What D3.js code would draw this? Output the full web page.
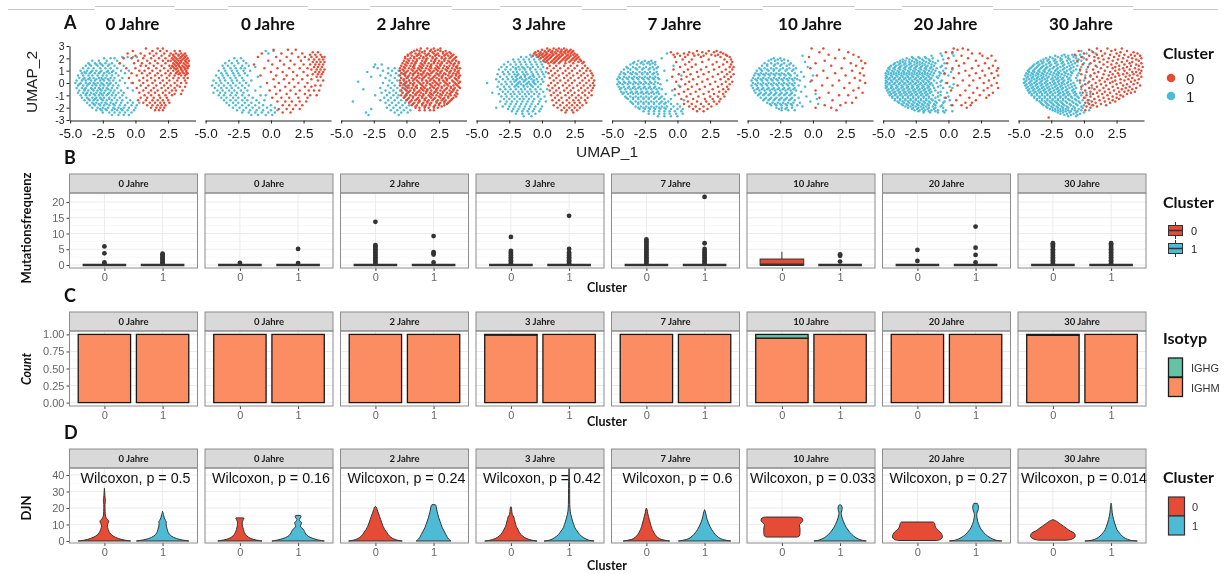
<!DOCTYPE html>
<html>
<head>
<meta charset="utf-8">
<script src="https://cdn.jsdelivr.net/npm/d3@7/dist/d3.min.js"></script>
<style>
  html,body{margin:0;padding:0;background:#fff;}
  svg{display:block;will-change:transform;-webkit-font-smoothing:antialiased;}
</style>
</head>
<body>
<svg id="fig" width="1226" height="574"></svg>
<script>
// ---------- categories & labels ----------
const ageLabels = ["0 Jahre","0 Jahre","2 Jahre","3 Jahre","7 Jahre","10 Jahre","20 Jahre","30 Jahre"];
const clusterNames = ["0","1"];
const clusterFill = ["#E64B35","#4DBBD5"];
const isotypeNames = ["IGHG","IGHM"];
const isotypeFill = ["#66C2A5","#FC8D62"];

const umapXTicks = [-5,-2.5,0,2.5];
const umapYTicks = [-3,-2,-1,0,1,2,3];
const mutTicks = [0,5,10,15,20];
const shareTicks = [0,0.25,0.5,0.75,1];
const djnTicks = [0,10,20,30,40];
const wilcoxonP = ["0.5","0.16","0.24","0.42","0.6","0.033","0.27","0.014"];

// ---------- UMAP embeddings (tenths of a unit): each row = [UMAP_2, UMAP_1 values...] ----------
const umapCluster0 = [
 [ // 0 Jahre
  [26,30,34],[24,27,31,35,38],[22,26,29,33,36,39],[20,28,31,34,37,40],[18,27,30,33,35,38,41],[16,29,32,34,37,40],[14,28,31,33,36,39,41],[12,30,32,35,38,40],[10,29,33,36,39],[8,31,34,37,40],[6,30,35,38],[4,33,37,40],[2,32,38],[0,35,39],[-3,34,38],[-6,31,36],[-9,30,35],
  [23,29,33,37],[21,30,35,38],[19,29,32,36,39],[17,31,35,39],[15,30,33,38],[13,29,34,37,40],[11,31,35,38],[9,32,36,39],[7,33,39],
  [28,8,17,21],[26,-2,13,19,24],[24,-6,4,11,16,22],[22,0,7,14,20],[20,-9,-3,6,12,18,23],[18,2,9,15,21,25],[16,-12,-1,5,11,17,23],[14,4,8,14,20,26],[12,-7,0,10,16,22,27],[10,3,7,13,19,25],[8,-3,5,11,17,23,27],[6,1,9,15,20,26],[4,-5,6,12,18,24,29],[2,3,9,15,21,26],[0,-2,6,13,19,24,30],[-2,4,10,16,22,27,32],[-4,1,8,14,20,25,30],[-6,6,12,17,23,28],[-8,3,10,15,21,26],[-10,7,12,18,23,28],[-12,4,9,14,19,24],[-14,2,8,13,17,21,25],[-16,6,11,15,19,22,26],[-18,9,13,17,20,23],[-20,12,16,19,22],[-22,15,18,21]
 ],
 [ // 0 Jahre
  [25,32,36],[23,30,34,38],[21,31,35,39,41],[19,29,33,37,40],[17,32,35,38,41],[15,30,34,37,40],[13,33,36,39],[11,31,35,38,41],[9,34,37,40],[7,32,36,39],[5,35,38],[2,36,40],[-2,34,38],[-6,33,37],[-10,30,35],
  [27,2,13,19],[24,-7,8,16,24],[21,-10,4,12,21,26],[18,-2,7,15,23],[15,-13,1,10,18,25],[12,-5,5,14,22,28],[9,0,9,17,25],[6,-8,4,12,20,28],[3,2,10,17,24,31],[0,-3,6,14,21,28],[-3,3,11,18,26,31],[-6,-1,7,15,22,29],[-9,4,12,19,26],[-12,1,8,14,21,28],[-15,5,11,16,22,27],[-18,9,14,19,24],[-21,6,12,17,22],[-24,9,15]
 ],
 [ // 2 Jahre
  [28,11,16,21,26],[27,8,19,24],[26,6,10,14,18,22,26,30],[25,4,12,20,28,33],[24,3,7,10,14,17,21,24,28,31,34],[23,1,9,16,23,30,36],[22,1,4,8,11,15,18,22,25,29,32,35],[21,-1,6,13,20,27,34,38],[20,-1,3,6,10,13,16,20,23,27,30,33,37],[19,1,8,15,22,29,36],[18,-2,2,5,8,12,15,19,22,25,29,32,35,38],[17,0,7,14,21,27,33,40],[16,-3,1,4,7,11,14,17,21,24,27,31,34,37,40],[15,-1,6,12,19,26,36],[14,-4,0,3,6,10,13,16,19,23,26,29,33,36,39],[13,-2,5,11,18,24,31,38],[12,-5,-1,2,6,9,12,15,19,22,25,28,32,35,39,41],[11,-3,4,10,17,23,30,37],[10,-5,-2,1,5,8,11,14,18,21,24,27,31,34,37,40],[9,0,7,13,20,26,33,39],[8,-4,-1,3,6,9,13,16,19,23,26,29,33,36,40],[7,-2,5,11,17,24,30,38],[6,-5,-1,2,5,9,12,15,18,22,25,28,32,35,38,41],[5,1,8,14,21,27,34,40],[4,-4,0,4,7,10,13,17,20,23,27,30,33,37,40],[3,-2,6,12,19,25,31,38],[2,-5,-2,2,5,8,12,15,18,21,25,28,31,35,39],[1,0,9,16,22,29,36,41],[0,-4,-1,3,6,10,13,16,20,23,26,30,33,37,40],[-1,-2,5,11,18,24,31,38],[-2,-5,-1,2,5,8,12,15,19,22,25,29,32,36,39],[-3,0,7,13,20,27,34,40],[-4,-3,1,4,8,11,14,18,21,24,27,31,34,37,41],[-5,-1,6,12,16,23,30,36],[-6,-4,0,3,6,10,13,16,19,23,26,29,33,36,39],[-7,2,9,15,22,28,35],[-8,-3,1,5,8,11,15,18,21,24,28,31,34,38],[-9,0,7,13,19,26,33,39],[-10,-4,0,3,7,10,13,17,20,23,27,30,34,37],[-11,-1,5,12,18,25,32,38],[-12,-2,2,5,9,12,15,19,22,26,29,32,36],[-13,1,8,14,21,28,35],[-14,0,4,7,10,14,17,20,24,27,30,34],[-15,3,10,16,23,29,33],[-16,2,6,9,13,16,19,23,26,29,32],[-17,5,12,18,25,31],[-18,4,8,12,15,18,22,25,29],[-19,7,14,21,27],[-20,7,10,14,17,21,24],[-22,10,14,18,21]
 ],
 [ // 3 Jahre
  [28,4,9,13,17],[27,0,6,11,15,19,22],[26,-3,2,5,8,12,15,18,21,24],[25,-5,-1,3,7,10,14,17,20,23],[24,-6,-2,1,4,8,11,15,18,22,25],[23,-4,0,3,6,9,13,16,20,24,27],[22,-7,-2,2,5,8,12,15,19,22,26],[21,-3,1,4,7,11,14,18,21,25,28],[20,-1,3,6,10,13,17,20,24,27],[19,2,5,9,12,16,19,23,26,29],[18,1,4,8,11,15,18,22,25,30],[17,3,7,10,14,21,28,32],[16,5,9,13,18,24,31],
  [14,6,11,17,22,27,33],[12,4,9,14,20,25,31,35],[10,7,12,18,23,29,34,37],[8,5,10,16,21,27,32,38],[6,8,13,19,24,30,35,39],[4,6,11,17,22,28,33,38],[2,9,14,20,25,31,36,40],[0,7,12,18,23,29,34,39],[-2,5,10,16,21,27,32,37,40],[-4,8,13,19,24,30,35,39],[-6,6,11,17,22,28,33,38],[-8,9,14,20,25,31,36],[-10,7,12,18,23,28,33,38],[-12,10,15,21,26,30,35],[-14,8,13,19,24,28,33],[-16,11,16,21,25,29,34],[-18,9,14,19,23,27,31],[-20,12,17,21,25,29],[-22,15,19,23,27],[-24,18,24]
 ],
 [ // 7 Jahre
  [26,15,24,30],[25,-5,9,19,28,33],[24,0,5,12,22,35],[23,-3,8,16,26,31,37],[22,2,13,20,29,38],[21,-2,6,18,33,40],[19,4,11,24,36,41],[17,-1,9,19,30,38,42],[15,6,14,27,35,41],[13,2,11,22,32,40,43],[11,-3,8,18,28,37,42],[9,5,15,24,34,40],[7,1,10,20,31,38,43],[5,-4,7,16,27,36,41],[3,3,12,23,33,39],[1,-1,9,19,29,37,42],[-1,6,15,25,34,40],[-3,2,11,21,31,38],[-5,-2,8,17,27,35,39],[-7,5,14,24,32,37],[-9,1,10,20,28,35],[-11,7,16,25,31,36],[-13,3,12,21,27,33],[-15,8,15,22,28,32],[-17,5,11,18,24,30],[-19,9,14,20,26],[-21,12,17,23],[-23,15,20]
 ],
 [ // 10 Jahre
  [28,-1,8],[27,20],[25,5,27],[23,12,31],[21,-3,35],[20,17,24],[18,9,37],[16,2,29,40],[14,14,33],[12,-2,22,38],[10,8,30],[8,17,36],[6,3,25,39],[4,11,32],[2,-1,20,36],[0,28,40],[-2,7,15],[-4,24,35],[-6,2,31],[-8,12,38],[-10,20,27],[-12,5,33],[-14,15],[-16,25,30],[-18,9,21],[-20,2,14],[-22,18]
 ],
 [ // 20 Jahre
  [28,4,11],[27,7,15],[25,-2,3],[24,18,24],[22,10,26,33],[20,0,15,30],[18,6,21,36],[16,-1,12,28],[14,8,23,34],[12,3,18,31,38],[10,13,26,37],[8,-3,8,21,33],[6,16,28,38],[4,4,24,35],[2,11,19,31],[0,-1,27,37],[-2,7,16,33],[-4,22,30,38],[-6,2,13,27],[-8,19,34],[-10,9,24,31],[-12,-2,16,29],[-14,6,21],[-16,13,18],[-18,3,10,17],[-20,14]
 ],
 [ // 30 Jahre
  [28,10,18,29],[27,4,24],[26,-4,13,21,33],[25,7,28,38],[24,0,16,25,41],[23,-7,10,20,31,36],[22,4,14,27,39,43],[21,-2,8,23,34],[20,11,19,30,37,44],[19,2,15,26,40],[18,-5,8,22,33,42],[17,12,18,29,37],[16,5,25,35,44],[15,-1,15,21,31,40],[14,9,27,36,42],[13,3,18,24,33,45],[12,13,22,30,39],[11,-3,7,27,35,42],[10,16,24,31,44],[9,2,11,20,37,40],[8,8,26,33,43],[7,-2,15,22,30,38],[6,5,19,27,35,41],[5,10,24,32,44],[4,1,14,21,37],[3,7,18,28,34,42],[2,-3,12,24,31,39],[1,4,16,22,36],[0,9,20,28,41],[-1,1,13,25,33,38],[-2,6,17,30,43],[-3,-2,10,22,35],[-4,4,15,26,32,40],[-5,8,19,29,37],[-6,1,12,23,34],[-7,5,16,27,31,39],[-8,-1,10,20,36],[-9,7,14,25,33],[-10,2,18,28],[-11,5,11,22,30],[-12,0,15,25],[-13,8,19,27],[-14,3,12,22],[-15,6,16,24],[-16,1,9,20],[-17,4,13],[-18,7,17],[-19,2,10],[-20,5],[-22,1],[-28,-27]
 ]
];

const umapCluster1 = [
 [ // 0 Jahre
  [20,-24,-19,-16],[21,-10,-6,-2,1],[18,-33,-28,-22,-14],[16,-36,-31,-27,-23,-18,-12],[14,-38,-34,-29,-25,-21,-16,-9],[12,-40,-36,-32,-27,-23,-19,-14],[10,-42,-37,-33,-30,-26,-21,-17,-11,-5],[8,-41,-38,-35,-31,-28,-24,-20,-15,-8],[6,-44,-40,-36,-33,-29,-25,-22,-18,-13],[4,-43,-39,-35,-32,-28,-26,-23,-19,-16,-10],[2,-45,-41,-38,-34,-31,-27,-24,-20,-17,-12],[0,-46,-42,-38,-35,-32,-29,-26,-22,-19,-15,-8,-3],[-2,-44,-40,-37,-33,-30,-27,-24,-21,-17,-13],[-4,-45,-41,-38,-34,-31,-28,-25,-22,-18,-14,-6],[-6,-43,-39,-36,-32,-29,-26,-23,-19,-16,-11,-2],[-8,-44,-40,-37,-34,-30,-27,-24,-20,-17,-13,-9],[-10,-42,-38,-35,-31,-28,-25,-22,-18,-15,-10],[-12,-41,-37,-33,-30,-27,-24,-20,-16,-12,-7],[-14,-39,-35,-32,-29,-25,-22,-18,-14,-10,-4],[-16,-37,-33,-30,-26,-23,-19,-15,-11,-6,-2,3],[-18,-35,-31,-27,-24,-20,-16,-12,-8,-3,1],[-20,-33,-29,-25,-21,-17,-13,-9,-5,0],[-22,-30,-26,-22,-18,-14,-10,-6,-1],[-24,-25,-20,-16,-12,-8,-3],[-26,-18,-13,-9,-5],
  [15,-35,-30,-26,-20],[9,-39,-34,-27,-22,-18],[3,-40,-36,-30,-25,-21],[-1,-43,-36,-31,-25,-20],[-5,-39,-33,-27,-21],[-9,-38,-32,-26,-21],[-13,-36,-31,-26,-20],[-17,-32,-28,-22,-17],[-21,-27,-23,-16,-11]
 ],
 [ // 0 Jahre
  [20,-28,-23],[18,-32,-26,-21],[16,-35,-30,-25,-19],[14,-37,-33,-28,-22,-17],[12,-36,-31,-27,-23,-20],[10,-40,-35,-30,-26,-21,-16],[8,-38,-34,-29,-25,-20],[6,-42,-37,-33,-28,-24,-18],[4,-40,-36,-31,-27,-22],[2,-44,-39,-35,-30,-26,-21,-15],[0,-42,-38,-33,-29,-24,-19],[-2,-45,-40,-36,-31,-27,-22,-17],[-4,-43,-38,-34,-30,-25,-20],[-6,-41,-37,-32,-28,-23,-18,-12],[-8,-44,-39,-35,-30,-26,-21],[-10,-40,-36,-31,-27,-22,-17,-8],[-12,-38,-34,-29,-25,-20,-14],[-14,-36,-31,-27,-22,-18,-11,-5],[-16,-34,-29,-25,-20,-15,-9],[-18,-32,-27,-22,-17,-12,-6,0],[-20,-29,-24,-19,-14,-9,-3,3],[-22,-26,-21,-16,-11,-6,0,5],[-24,-22,-17,-12,-7,-2,3],[-26,-15,-10,-4,1],
  [26,-4,2],[24,-2],[13,-12],[-3,-8],[5,-10],[-10,-4]
 ],
 [ // 2 Jahre
  [15,-24,-19],[12,-22,-14,-9],[10,-18,-11,-6],[8,-14,-8,-3],[6,-20,-12,-6,-1],[4,-16,-9,-4,1],[2,-13,-7,-2,2],[0,-18,-11,-5,0,3],[-2,-14,-9,-3,1],[-4,-20,-12,-7,-2,2],[-6,-16,-10,-5,0],[-8,-19,-13,-8,-3,1],[-10,-15,-10,-6,-1,3],[-12,-17,-12,-7,-2],[-14,-20,-14,-9,-4,0],[-16,-16,-11,-6,-1],[-18,-13,-8,-3,2],[-20,-15,-10,-5,0],[-22,-12,-7,-2,3],[-24,-9,-4,1],[-26,-29,-6],
  [1,-37],[-15,-41],[-24,-31],[-21,-27],[9,-30],[13,-25],[-5,-33],[5,-27],[-10,-24]
 ],
 [ // 3 Jahre
  [23,-9,-5,-1],[21,-16,-12,-8,-4,0],[19,-22,-18,-14,-10,-6,-2],[17,-26,-21,-17,-13,-9,-5,-1,2],[15,-29,-24,-20,-16,-12,-8,-4,0],[13,-31,-27,-22,-18,-15,-11,-7,-3,1],[11,-33,-28,-24,-20,-17,-13,-9,-5,-1],[9,-30,-26,-22,-19,-15,-12,-8,-4,0,3],[7,-34,-29,-25,-21,-18,-14,-11,-7,-3,1],[5,-32,-27,-23,-20,-16,-13,-9,-6,-2,2],[3,-35,-30,-26,-22,-19,-15,-12,-8,-4,0],[1,-33,-28,-24,-21,-17,-14,-10,-7,-3,1],[-1,-31,-27,-23,-19,-16,-12,-9,-5,-1],[-3,-34,-29,-25,-21,-18,-14,-11,-7,-3],[-5,-32,-28,-24,-20,-16,-13,-9,-5,-1,4],[-7,-30,-26,-22,-18,-15,-11,-8,-4,1],[-9,-33,-28,-24,-21,-17,-13,-10,-6,-2],[-11,-31,-27,-23,-19,-15,-12,-8,-3,2],[-13,-29,-25,-21,-17,-14,-10,-6,-1],[-15,-32,-27,-23,-19,-15,-11,-7,-2,3],[-17,-28,-24,-20,-16,-12,-8,-3],[-19,-30,-25,-21,-17,-13,-9,-5,0],[-21,-26,-22,-18,-14,-10,-6,-1],[-23,-23,-19,-15,-11,-7,-2],[-25,-20,-15,-10,-5],[-27,-14,-8],
  [12,-20,-14,-9],[6,-19,-13,-7],[4,-17,-10],[0,-18,-11,-6],[2,-20,-13,-6],[-2,-20,-14,-8],[0,-42],[-8,-38],[-20,-35]
 ],
 [ // 7 Jahre
  [18,-30,-25,-20],[17,-33,-27,-22,-17],[15,-36,-31,-26,-21,-17],[13,-39,-34,-29,-24,-19,-15],[11,-41,-36,-31,-27,-22,-18],[9,-43,-38,-34,-29,-25,-21,-16],[7,-44,-40,-35,-31,-27,-23,-19,-15],[5,-45,-41,-37,-33,-29,-25,-21,-17],[3,-46,-42,-38,-34,-30,-26,-22,-18,-14],[1,-45,-41,-37,-33,-29,-25,-21,-17],[-1,-46,-42,-38,-34,-30,-26,-22,-18,-13],[-3,-45,-41,-37,-33,-29,-25,-21,-17],[-5,-44,-40,-36,-32,-28,-24,-20,-16,-12],[-7,-43,-39,-35,-31,-27,-23,-19,-15],[-9,-42,-38,-34,-30,-26,-22,-18,-14,-9],[-11,-40,-36,-32,-28,-24,-20,-16,-12],[-13,-38,-34,-30,-26,-22,-18,-14,-10,-5],[-15,-36,-32,-28,-24,-20,-16,-12,-7],[-17,-34,-30,-26,-22,-18,-14,-10,-5,0],[-19,-32,-28,-24,-20,-16,-12,-8,-3,2],[-21,-29,-25,-21,-17,-13,-9,-5,0,4],[-23,-26,-22,-18,-14,-10,-6,-2,3],[-25,-22,-18,-14,-10,-6,-1,4],[-27,-15,-10,-5,0],
  [16,-34,-28,-23,-19],[12,-38,-32,-26,-21,-16],[8,-41,-36,-32,-27,-23,-18],[4,-44,-39,-35,-31,-27,-23,-19,-15],[0,-44,-40,-36,-32,-28,-24,-20,-15],[-4,-43,-38,-34,-30,-26,-22,-18,-14],[-8,-41,-36,-32,-28,-24,-20,-16],[-12,-39,-34,-30,-26,-22,-17,-13],[-16,-35,-30,-26,-22,-18,-13,-9],[-20,-30,-26,-22,-18,-14,-10],
  [24,-8],[10,-10],[2,-8],[-6,-4],[14,-3],[-10,-2],[-2,1],[6,3],[20,-12],[-14,5]
 ],
 [ // 10 Jahre
  [20,-30,-25],[18,-34,-29,-24,-19],[16,-37,-32,-27,-22,-17],[14,-39,-35,-30,-25,-20,-15],[12,-41,-37,-32,-28,-23,-18,-13],[10,-43,-39,-34,-30,-26,-21,-16],[8,-44,-40,-36,-32,-28,-24,-19,-14],[6,-45,-41,-37,-33,-29,-25,-21,-17,-12],[4,-46,-42,-38,-34,-30,-26,-22,-18,-14],[2,-47,-43,-39,-35,-31,-27,-23,-19,-15,-10],[0,-46,-42,-38,-34,-30,-26,-22,-18,-14],[-2,-47,-43,-39,-35,-31,-27,-23,-19,-15,-11],[-4,-46,-42,-38,-34,-30,-26,-22,-18,-14],[-6,-45,-41,-37,-33,-29,-25,-21,-17,-13],[-8,-44,-40,-36,-32,-28,-24,-20,-16],[-10,-42,-38,-34,-30,-26,-22,-18,-14],[-12,-40,-36,-32,-28,-24,-20,-16,-11],[-14,-38,-34,-30,-26,-22,-18,-14],[-16,-35,-31,-27,-23,-19,-15,-10],[-18,-32,-28,-24,-20,-16,-12],[-20,-28,-24,-20,-16],[-22,-24,-19,-14],
  [19,-32,-27,-22],[15,-35,-29,-24,-18],[11,-40,-35,-30,-25,-20,-15],[7,-42,-38,-34,-30,-26,-22,-18],[3,-44,-40,-36,-32,-28,-24,-20,-16,-12],[-1,-44,-40,-36,-32,-28,-24,-20,-16],[-5,-43,-39,-35,-31,-27,-23,-19,-15],[-9,-41,-37,-33,-29,-25,-21,-17],[-13,-37,-33,-29,-25,-21,-17],[-17,-33,-29,-25,-21,-17],[-21,-26,-21],
  [22,-8],[9,-9],[5,-7],[-3,-6],[-7,-9],[-11,-5],[-15,-2],[-19,-8],[13,-4],[1,-2],[-9,2],[17,-6],[-13,3],[-17,4],[6,0]
 ],
 [ // 20 Jahre
  [21,-28,-23,-18],[20,-32,-27,-22,-17,-12],[19,-35,-30,-25,-20,-15],[18,-37,-33,-28,-24,-19,-14,-8],[17,-39,-35,-30,-26,-22,-17,-12],[16,-41,-37,-33,-29,-24,-20,-15,-10,-3],[15,-42,-38,-34,-30,-26,-22,-18,-13],[14,-44,-40,-36,-32,-28,-24,-20,-16,-11,-5],[13,-45,-41,-37,-33,-29,-25,-21,-17,-13],[12,-46,-42,-38,-34,-30,-26,-22,-18,-14,-9,-2],[11,-45,-41,-37,-33,-29,-25,-21,-17,-12],[10,-47,-43,-39,-35,-31,-27,-23,-19,-15,-10,-4],[9,-46,-42,-38,-34,-30,-26,-22,-18,-13],[8,-48,-44,-40,-36,-32,-28,-24,-20,-16,-11,-6],[7,-46,-42,-38,-34,-30,-26,-22,-18,-14],[6,-48,-44,-40,-36,-32,-28,-24,-20,-16,-12,-7,0],[5,-47,-43,-39,-35,-31,-27,-23,-19,-15],[4,-48,-45,-41,-37,-33,-29,-25,-21,-17,-13,-8],[3,-46,-42,-38,-34,-30,-26,-22,-18,-14],[2,-48,-44,-40,-36,-32,-28,-24,-20,-16,-11,-5],[1,-47,-43,-39,-35,-31,-27,-23,-19,-15],[0,-48,-45,-41,-37,-33,-29,-25,-21,-17,-13,-9,-2],[-1,-46,-42,-38,-34,-30,-26,-22,-18,-14],[-2,-48,-44,-40,-36,-32,-28,-24,-20,-16,-12,-6],[-3,-47,-43,-39,-35,-31,-27,-23,-19,-15],[-4,-48,-44,-40,-36,-32,-28,-24,-20,-16,-11,-4,3],[-5,-46,-42,-38,-34,-30,-26,-22,-18,-14],[-6,-47,-43,-39,-35,-31,-27,-23,-19,-15,-10],[-7,-45,-41,-37,-33,-29,-25,-21,-17,-13],[-8,-46,-42,-38,-34,-30,-26,-22,-18,-14,-8,-1],[-9,-44,-40,-36,-32,-28,-24,-20,-16],[-10,-45,-41,-37,-33,-29,-25,-21,-17,-12,-6],[-11,-43,-39,-35,-31,-27,-23,-19,-15],[-12,-43,-39,-35,-31,-27,-23,-19,-15,-10,-3],[-13,-41,-37,-33,-29,-25,-21,-17,-13],[-14,-41,-37,-33,-29,-25,-21,-17,-12,-7,1],[-15,-39,-35,-31,-27,-23,-19,-15],[-16,-38,-34,-30,-26,-22,-18,-14,-9,-4],[-17,-36,-32,-28,-24,-20,-16,-11],[-18,-35,-31,-27,-23,-19,-15,-10,-5,2],[-19,-33,-29,-25,-21,-17,-12],[-20,-31,-27,-23,-19,-15,-10,-4],[-21,-28,-24,-20,-16,-11],[-22,-26,-22,-18,-13,-8,-2],[-23,-23,-19,-15,-10],[-24,-19,-14,-8,-3],
  [24,-6,3],[22,-13,-5,4],[19,-4],[13,-6],[9,-7,2],[5,-9],[1,-6],[-3,-8,1],[-7,-6],[-11,-8,0],[-15,-10,-3],[-19,-6],[-23,-4,3],[7,-3],[11,3],[-1,4]
 ],
 [ // 30 Jahre
  [23,-15,-9,-3],[22,-22,-17,-12,-6],[21,-26,-20,-14,-8,-1],[20,-29,-24,-18,-12,-6],[19,-31,-27,-22,-17,-11,-4],[18,-33,-28,-23,-18,-13,-8],[17,-35,-31,-26,-21,-16,-10,-5],[16,-36,-32,-27,-22,-17,-12,-7,0],[15,-38,-34,-29,-25,-20,-15,-9],[14,-39,-35,-31,-26,-21,-16,-11,-5],[13,-40,-36,-32,-28,-23,-18,-13,-8,-2],[12,-41,-37,-33,-29,-24,-20,-15,-10],[11,-42,-38,-34,-30,-26,-21,-16,-11,-6],[10,-43,-39,-35,-31,-27,-22,-18,-13,-8,-3],[9,-42,-38,-34,-30,-25,-20,-15,-10],[8,-44,-40,-36,-32,-28,-23,-19,-14,-9,-4],[7,-43,-39,-35,-31,-26,-21,-17,-12],[6,-45,-41,-37,-33,-29,-24,-20,-15,-10,-5,1],[5,-43,-39,-35,-31,-27,-22,-18,-13],[4,-44,-40,-36,-32,-28,-24,-20,-16,-11,-6],[3,-46,-42,-38,-34,-30,-25,-21,-17,-12],[2,-44,-40,-36,-32,-28,-23,-19,-15,-10,-5,0],[1,-45,-41,-37,-33,-29,-24,-20,-16,-12],[0,-46,-42,-38,-34,-30,-26,-22,-17,-13,-8,-3],[-1,-44,-40,-36,-32,-28,-23,-19,-15,-10],[-2,-45,-41,-37,-33,-29,-25,-21,-17,-12,-7,-1],[-3,-43,-39,-35,-31,-27,-22,-18,-14,-9],[-4,-44,-40,-36,-32,-28,-24,-20,-16,-11,-6],[-5,-42,-38,-34,-30,-26,-21,-17,-13,-8,-2],[-6,-43,-39,-35,-31,-27,-23,-19,-14,-9],[-7,-41,-37,-33,-29,-25,-20,-16,-12,-7],[-8,-42,-38,-34,-30,-26,-22,-18,-13,-8,-3,2],[-9,-40,-36,-32,-28,-24,-19,-15,-11,-6],[-10,-40,-36,-32,-28,-24,-20,-16,-12,-7,-2],[-11,-38,-34,-30,-26,-22,-18,-14,-10,-5],[-12,-38,-34,-30,-26,-22,-18,-14,-9,-4,1],[-13,-36,-32,-28,-24,-20,-16,-12,-7],[-14,-36,-32,-28,-24,-20,-16,-11,-6,-1,4],[-15,-34,-30,-26,-22,-18,-14,-9,-4],[-16,-33,-29,-25,-21,-17,-13,-8,-3,3],[-17,-32,-28,-24,-20,-16,-11,-6],[-18,-31,-27,-23,-19,-15,-10,-5,0],[-19,-29,-25,-21,-17,-13,-8,-2],[-20,-28,-24,-20,-16,-12,-7,-1],[-21,-26,-22,-18,-14,-9,-4],[-22,-24,-20,-16,-12,-7,-2],[-23,-22,-18,-14,-10,-5],[-24,-20,-16,-11,-6,0],[-25,-18,-13,-8,-3],[-26,-15,-10,-5],[-27,-12,-6],
  [26,-2,6],[24,2,9],[20,0],[15,4],[11,2],[5,5],[0,3],[-4,6],[-9,5],[-13,8],[-18,6],[-22,4],[18,-2,8],[13,10],[22,43]
 ]
];

// ---------- B: mutation frequency box plots, [cluster 0, cluster 1] per age ----------
const mutQ1 = [[0,0],[0,0],[0,0],[0,0],[0,0],[0,0],[0,0],[0,0]];
const mutMedian = [[0,0],[0,0],[0,0],[0,0],[0,0],[0.1,0],[0,0],[0,0]];
const mutQ3 = [[0,0],[0,0],[0,0],[0,0],[0,0],[1.9,0],[0,0],[0,0]];
const mutWhiskerHigh = [[0,0],[0,0],[0,0],[0,0],[0,0],[4.2,0],[0,0],[0,0]];
const mutOutliers = [
 [[0.4,0.8,3.7,5.9],[0.5,0.9,1.3,1.7,2.1,2.5,2.9,3.3,3.6]],
 [[0.7],[0.6,5.1]],
 [[0.5,1,1.5,2,2.5,3,3.5,4,4.5,5,5.5,6,6.3,13.7],[0.8,3.3,3.8,4.1,9.2]],
 [[0.5,1,1.5,2,2.5,3,3.5,4,4.5,8.9],[0.5,1,1.5,2,2.5,3,3.5,4,5.1,15.6]],
 [[0.5,1,1.5,2,2.5,3,3.5,4,4.5,5,5.5,6,6.6,7.2,7.6,8.1],[0.5,1,1.5,2,2.5,3,3.5,4,4.5,5.1,6.9,21.6]],
 [[],[1.1,2.9,3.4]],
 [[1.3,4.8],[0.8,3.2,5.5,12.2]],
 [[0.5,1,1.5,2,2.5,3,3.5,4,4.5,5,5.7,6.1,6.5,6.9],[0.5,1,1.5,2,2.5,3,3.5,4,4.5,5,5.5,6,6.5,6.9]]
];

// ---------- C: isotype share per cluster ----------
const ighgShare = [[0,0],[0,0],[0,0],[0.008,0],[0,0],[0.055,0],[0,0],[0.012,0]];
const ighmShare = [[1,1],[1,1],[1,1],[0.992,1],[1,1],[0.945,1],[1,1],[0.988,1]];

// ---------- D: DJN violin outlines, [value, half width in category units] ----------
const djnViolins = [
 [[[0,0.45],[0.6,0.34],[1.5,0.24],[3,0.15],[5,0.09],[7,0.065],[9,0.05],[10.5,0.06],[11.5,0.075],[12.5,0.07],[13.5,0.04],[15,0.02],[18,0.012],[22,0.01],[24,0.016],[25,0.018],[26,0.012],[29,0.006],[32,0]],
  [[0,0.45],[0.7,0.33],[1.5,0.24],[3,0.15],[5,0.1],[7,0.08],[9,0.065],[10.5,0.06],[11.5,0.065],[12.5,0.05],[14,0.03],[16,0.015],[18,0]]],
 [[[0,0.38],[0.7,0.27],[1.5,0.19],[3,0.12],[5,0.08],[7,0.06],[9,0.045],[11,0.04],[12,0.045],[13,0.06],[13.8,0.07],[14,0.065]],
  [[0,0.45],[0.8,0.33],[2,0.22],[3.5,0.15],[5,0.12],[6.5,0.1],[8,0.06],[9,0.04],[10,0.05],[11,0.06],[12,0.035],[13,0.02],[14,0.04],[15,0.05],[15.5,0.04]]],
 [[[0,0.46],[0.5,0.38],[1.5,0.3],[3,0.24],[5,0.2],[7,0.16],[9,0.13],[11,0.11],[13,0.09],[15,0.07],[17,0.05],[19,0.03],[20.5,0.015],[21,0]],
  [[0,0.3],[0.5,0.28],[2,0.24],[4,0.21],[6,0.18],[8,0.15],[10,0.13],[12,0.11],[14,0.09],[16,0.075],[18,0.06],[20,0.05],[21.5,0.04],[22,0.03]]],
 [[[0,0.45],[0.5,0.36],[1.5,0.27],[3,0.2],[5,0.15],[7,0.12],[9,0.09],[11,0.075],[13,0.06],[14.5,0.05],[16,0.025],[18,0.015],[20,0.01],[20.8,0]],
  [[0,0.43],[0.6,0.33],[2,0.25],[4,0.18],[6,0.14],[8,0.1],[10,0.08],[12,0.06],[14,0.045],[16,0.03],[18,0.02],[22,0.012],[28,0.01],[36,0.008],[44,0]]],
 [[[0,0.4],[0.6,0.3],[1.5,0.22],[3,0.17],[5,0.13],[7,0.1],[9,0.08],[11,0.065],[13,0.05],[15,0.035],[17,0.02],[19,0.012],[20,0]],
  [[0,0.45],[0.6,0.35],[1.5,0.27],[3,0.21],[5,0.16],[7,0.12],[9,0.09],[11,0.065],[13,0.045],[15,0.03],[17,0.018],[19,0]]],
 [[[2.4,0.26],[3,0.3],[5,0.31],[8,0.31],[10,0.3],[11,0.33],[12.5,0.36],[14,0.34],[14.5,0.27]],
  [[0,0.45],[0.6,0.36],[2,0.27],[4,0.2],[6,0.15],[8,0.11],[10,0.08],[12,0.055],[14,0.035],[16,0.022],[17.5,0.02],[18.5,0.03],[20,0.035],[21.5,0.025],[22,0]]],
 [[[0.3,0.33],[1,0.4],[2.5,0.43],[4,0.42],[5.5,0.39],[7,0.34],[8.5,0.31],[10,0.3],[11,0.29],[11.5,0.27]],
  [[0,0.45],[0.6,0.34],[2,0.25],[4,0.17],[6,0.12],[8,0.08],[10,0.055],[12,0.035],[14,0.025],[16,0.02],[17.5,0.03],[19,0.045],[20.5,0.05],[22,0.04],[22.8,0.03]]],
 [[[0.5,0.24],[1.2,0.33],[2.5,0.38],[4,0.38],[5,0.36],[6,0.3],[7.5,0.24],[9,0.18],[10.5,0.12],[12,0.06],[13,0]],
  [[0,0.45],[0.5,0.33],[1.5,0.25],[3,0.19],[5,0.14],[7,0.1],[9,0.08],[11,0.06],[13,0.045],[15,0.03],[17,0.02],[19,0.014],[21,0.01],[23,0]]]
];

// ---------- drawing ----------
const svg = d3.select("#fig");
const SANS = '"Liberation Sans", Arial, Helvetica, sans-serif';
const HUM = 'Lato, "Open Sans", sans-serif';
const facetLeft = i => 69.5 + i * 135.5;
const PANEL_W = 128;
const UMAP_W = 126;
const LINE = "#8c8c8c";

function expandRows(rows) {
  const pts = [];
  rows.forEach(r => { for (let k = 1; k < r.length; k++) pts.push([r[k] / 10, r[0] / 10]); });
  return pts;
}
function text(g, x, y, str, opts = {}) {
  return g.append("text").attr("x", x).attr("y", y).text(str)
    .attr("font-family", opts.font || SANS).attr("font-size", opts.size || 12)
    .attr("font-weight", opts.weight || "normal").attr("font-style", opts.style || "normal")
    .attr("fill", opts.fill || "#1a1a1a").attr("text-anchor", opts.anchor || "start")
    .attr("dominant-baseline", opts.baseline || "auto");
}
function styleAxis(g, lineColor, textColor, size) {
  g.attr("font-family", SANS).attr("font-size", size);
  g.select(".domain").attr("stroke", lineColor);
  g.selectAll(".tick line").attr("stroke", lineColor);
  g.selectAll(".tick text").attr("fill", textColor);
}

// window edge rules along the top
const topRule = svg.append("g").attr("stroke", "#c9c9c9").attr("stroke-width", 1).attr("fill", "none");
[[8,95,9],[95,175,6],[175,228,9],[228,308,6],[308,370,9],[370,452,6],[452,500,9],[500,582,6],[582,627,9],[627,720,6],[720,763,9],[763,855,6],[855,902,9],[902,993,6],[993,1040,9],[1040,1133,6],[1133,1218,9]]
  .forEach(s => topRule.append("line").attr("x1", s[0]).attr("x2", s[1]).attr("y1", s[2] + 0.5).attr("y2", s[2] + 0.5));

// section letters
[["A",29],["B",164],["C",302],["D",439]].forEach(([l, y]) =>
  text(svg, 64, y, l, {font: HUM, size: 18, weight: "bold", fill: "#111"}));

// ===== A: UMAP =====
const umapY = d3.scaleLinear().domain([-3, 3]).range([120, 46]);
ageLabels.forEach((age, i) => {
  const x0 = facetLeft(i);
  const xs = d3.scaleLinear().domain([-5.05, 4.6]).range([x0, x0 + UMAP_W]);
  const g = svg.append("g");
  text(g, x0 + UMAP_W / 2, 30, age, {font: HUM, size: 17, weight: "bold", anchor: "middle", fill: "#111"});
  [1, 0].forEach(c => {
    const pts = expandRows(c === 0 ? umapCluster0[i] : umapCluster1[i]);
    g.append("g").selectAll("circle").data(pts).join("circle")
      .attr("cx", d => xs(d[0])).attr("cy", d => umapY(d[1]))
      .attr("r", 1.25).attr("fill", clusterFill[c]);
  });
  const ax = g.append("g").attr("transform", "translate(0,120.5)")
    .call(d3.axisBottom(xs).tickValues(umapXTicks).tickFormat(d => d.toFixed(1)).tickSize(3).tickSizeOuter(0).tickPadding(4.5));
  styleAxis(ax, "#222", "#1a1a1a", 13.5);
  if (i === 0) {
    const ay = g.append("g").attr("transform", `translate(${x0},0)`)
      .call(d3.axisLeft(umapY).tickValues(umapYTicks).tickFormat(d => String(d)).tickSize(3).tickSizeOuter(0).tickPadding(2));
    styleAxis(ay, "#222", "#1a1a1a", 10.5);
    ay.selectAll(".tick text").attr("dy", "0.36em");
  }
});
text(svg, 31, 82, "UMAP_2", {size: 15.5, anchor: "middle", baseline: "central", fill: "#222"})
  .attr("transform", "rotate(-90,31,82)");
text(svg, 607, 157, "UMAP_1", {size: 15.5, anchor: "middle", fill: "#222"});
// legend A
text(svg, 1163, 59, "Cluster", {font: HUM, size: 16, weight: "bold", fill: "#111"});
clusterNames.forEach((n, c) => {
  svg.append("circle").attr("cx", 1171).attr("cy", 78 + c * 18).attr("r", 4.3).attr("fill", clusterFill[c]);
  text(svg, 1186, 78 + c * 18, n, {size: 15, baseline: "central", fill: "#222"});
});

// ===== shared facet frame for B, C, D =====
function catScale(x0) { return d3.scaleLinear().domain([0.4, 2.6]).range([x0, x0 + PANEL_W]); }
function facetFrame(i, row, ys, major, minor) {
  const x0 = facetLeft(i);
  const g = svg.append("g");
  g.append("rect").attr("x", x0).attr("y", row.panelTop).attr("width", PANEL_W)
    .attr("height", row.panelBottom - row.panelTop).attr("fill", "#fff");
  const grid = g.append("g");
  minor.forEach(v => grid.append("line").attr("x1", x0).attr("x2", x0 + PANEL_W)
    .attr("y1", ys(v)).attr("y2", ys(v)).attr("stroke", "#f2f2f2").attr("stroke-width", 0.6));
  major.forEach(v => grid.append("line").attr("x1", x0).attr("x2", x0 + PANEL_W)
    .attr("y1", ys(v)).attr("y2", ys(v)).attr("stroke", "#ebebeb").attr("stroke-width", 1));
  const cx = catScale(x0);
  [1, 2].forEach(v => grid.append("line").attr("x1", cx(v)).attr("x2", cx(v))
    .attr("y1", row.panelTop).attr("y2", row.panelBottom).attr("stroke", "#ebebeb").attr("stroke-width", 1));
  // strip
  g.append("rect").attr("x", x0).attr("y", row.stripTop).attr("width", PANEL_W)
    .attr("height", row.panelTop - row.stripTop).attr("fill", "#d9d9d9").attr("stroke", LINE).attr("stroke-width", 1);
  text(g, x0 + PANEL_W / 2, row.stripTop + 13, ageLabels[i], {font: HUM, size: 9.5, weight: "bold", anchor: "middle", fill: "#1a1a1a"});
  // x axis
  const ax = g.append("g").attr("transform", `translate(0,${row.panelBottom})`)
    .call(d3.axisBottom(cx).tickValues([1, 2]).tickFormat(d => clusterNames[d - 1]).tickSize(3).tickSizeOuter(0).tickPadding(2));
  styleAxis(ax, "#444", "#666", 11);
  ax.select(".domain").remove();
  if (i === 0) {
    const ay = g.append("g").attr("transform", `translate(${x0},0)`)
      .call(d3.axisLeft(ys).tickValues(major).tickSize(3).tickSizeOuter(0).tickPadding(2)
        .tickFormat(row.fmt));
    styleAxis(ay, "#444", "#666", 11);
    ay.select(".domain").remove();
  }
  const marks = g.append("g");
  const border = () => g.append("rect").attr("x", x0).attr("y", row.panelTop).attr("width", PANEL_W)
    .attr("height", row.panelBottom - row.panelTop).attr("fill", "none").attr("stroke", LINE).attr("stroke-width", 1);
  return {g, marks, cx, border, x0};
}

// ===== B: mutation frequency =====
const rowB = {stripTop: 174, panelTop: 193, panelBottom: 268, fmt: d => String(d)};
const yB = d3.scaleLinear().domain([-0.95, 22.86]).range([268, 193]);
ageLabels.forEach((age, i) => {
  const f = facetFrame(i, rowB, yB, mutTicks, [2.5, 7.5, 12.5, 17.5, 22.5].filter(v => v < 22.86));
  const unit = PANEL_W / 2.2;
  [0, 1].forEach(c => {
    const cx = f.cx(c + 1), hw = 0.375 * unit;
    const q1 = mutQ1[i][c], q3 = mutQ3[i][c], med = mutMedian[i][c], hi = mutWhiskerHigh[i][c];
    if (hi > q3) f.marks.append("line").attr("x1", cx).attr("x2", cx).attr("y1", yB(q3)).attr("y2", yB(hi))
      .attr("stroke", "#333").attr("stroke-width", 1);
    if (q3 > q1) f.marks.append("rect").attr("x", cx - hw).attr("width", 2 * hw)
      .attr("y", yB(q3)).attr("height", yB(q1) - yB(q3))
      .attr("fill", clusterFill[c]).attr("stroke", "#333").attr("stroke-width", 1);
    f.marks.append("line").attr("x1", cx - hw).attr("x2", cx + hw).attr("y1", yB(med)).attr("y2", yB(med))
      .attr("stroke", "#333").attr("stroke-width", 2.6);
    f.marks.selectAll(null).data(mutOutliers[i][c]).join("circle")
      .attr("cx", cx).attr("cy", d => yB(d)).attr("r", 2.4).attr("fill", "#333");
  });
  f.border();
});
text(svg, 26, 228, "Mutationsfrequenz", {font: HUM, size: 13, weight: "bold", anchor: "middle", baseline: "central", fill: "#111"})
  .attr("transform", "rotate(-90,26,228)");
text(svg, 607, 292, "Cluster", {font: HUM, size: 12.5, weight: "bold", anchor: "middle", fill: "#111"});
// legend B
text(svg, 1163, 208, "Cluster", {font: HUM, size: 16, weight: "bold", fill: "#111"});
clusterNames.forEach((n, c) => {
  const top = 222 + c * 18;
  svg.append("line").attr("x1", 1175.5).attr("x2", 1175.5).attr("y1", top).attr("y2", top + 17).attr("stroke", "#333");
  svg.append("rect").attr("x", 1168.5).attr("y", top + 3.5).attr("width", 14).attr("height", 10)
    .attr("fill", clusterFill[c]).attr("stroke", "#333").attr("stroke-width", 1);
  svg.append("line").attr("x1", 1168.5).attr("x2", 1182.5).attr("y1", top + 8.5).attr("y2", top + 8.5).attr("stroke", "#333").attr("stroke-width", 1.5);
  text(svg, 1191, top + 8.5, n, {size: 11, baseline: "central", fill: "#222"});
});

// ===== C: isotype share =====
const rowC = {stripTop: 312, panelTop: 331, panelBottom: 406, fmt: d => d.toFixed(2)};
const yC = d3.scaleLinear().domain([-0.05, 1.05]).range([406, 331]);
ageLabels.forEach((age, i) => {
  const f = facetFrame(i, rowC, yC, shareTicks, [0.125, 0.375, 0.625, 0.875]);
  const unit = PANEL_W / 2.2;
  [0, 1].forEach(c => {
    const cx = f.cx(c + 1), hw = 0.45 * unit;
    const m = ighmShare[i][c], gg = ighgShare[i][c];
    f.marks.append("rect").attr("x", cx - hw).attr("width", 2 * hw)
      .attr("y", yC(m)).attr("height", yC(0) - yC(m))
      .attr("fill", isotypeFill[1]).attr("stroke", "#1a1a1a").attr("stroke-width", 1.3);
    if (gg > 0) f.marks.append("rect").attr("x", cx - hw).attr("width", 2 * hw)
      .attr("y", yC(m + gg)).attr("height", yC(m) - yC(m + gg))
      .attr("fill", isotypeFill[0]).attr("stroke", "#1a1a1a").attr("stroke-width", 1.3);
  });
  f.border();
});
text(svg, 26, 369, "Count", {font: HUM, size: 12.5, weight: "bold", style: "italic", anchor: "middle", baseline: "central", fill: "#111"})
  .attr("transform", "rotate(-90,26,369)");
text(svg, 607, 426, "Cluster", {font: HUM, size: 12.5, weight: "bold", anchor: "middle", fill: "#111"});
// legend C
text(svg, 1163, 344, "Isotyp", {font: HUM, size: 16, weight: "bold", fill: "#111"});
isotypeNames.forEach((n, k) => {
  const top = 358 + k * 19.5;
  svg.append("rect").attr("x", 1168.5).attr("y", top).attr("width", 14).attr("height", 19)
    .attr("fill", isotypeFill[k]).attr("stroke", "#1a1a1a").attr("stroke-width", 1.3);
  text(svg, 1191, top + 10, n, {size: 11, baseline: "central", fill: "#333"});
});

// ===== D: DJN violins =====
const rowD = {stripTop: 449, panelTop: 468, panelBottom: 543, fmt: d => String(d)};
const yD = d3.scaleLinear().domain([-1.21, 44.24]).range([543, 468]);
ageLabels.forEach((age, i) => {
  const f = facetFrame(i, rowD, yD, djnTicks, [5, 15, 25, 35]);
  const unit = PANEL_W / 2.2;
  [0, 1].forEach(c => {
    const cx = f.cx(c + 1);
    const area = d3.area()
      .y(d => yD(d[0]))
      .x0(d => cx - d[1] * unit)
      .x1(d => cx + d[1] * unit)
      .curve(d3.curveCatmullRom.alpha(0.5));
    f.marks.append("path").attr("d", area(djnViolins[i][c]))
      .attr("fill", clusterFill[c]).attr("stroke", "#333").attr("stroke-width", 1);
  });
  text(f.g, f.x0 + PANEL_W / 2 + 2, 483, `Wilcoxon, p = ${wilcoxonP[i]}`, {size: 14.3, anchor: "middle", fill: "#111"});
  f.border();
});
text(svg, 26, 508, "DJN", {font: HUM, size: 13, weight: "bold", anchor: "middle", baseline: "central", fill: "#111"})
  .attr("transform", "rotate(-90,26,508)");
text(svg, 607, 570, "Cluster", {font: HUM, size: 12.5, weight: "bold", anchor: "middle", fill: "#111"});
// legend D
text(svg, 1163, 483, "Cluster", {font: HUM, size: 16, weight: "bold", fill: "#111"});
clusterNames.forEach((n, c) => {
  const top = 497 + c * 19;
  svg.append("rect").attr("x", 1168.5).attr("y", top).attr("width", 16).attr("height", 19)
    .attr("fill", clusterFill[c]).attr("stroke", "#333").attr("stroke-width", 1.2);
  text(svg, 1192, top + 10, n, {size: 11, baseline: "central", fill: "#333"});
});
</script>
</body>
</html>
